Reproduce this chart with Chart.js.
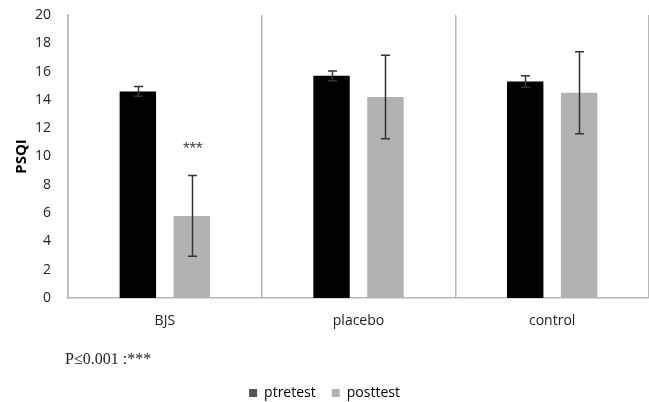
<!DOCTYPE html>
<html>
<head>
<meta charset="utf-8">
<script src="https://cdn.jsdelivr.net/npm/chart.js@4/dist/chart.umd.min.js"></script>
<style>
  html, body { margin: 0; padding: 0; background: #fff; }
  #wrap { width: 649px; height: 402px; position: relative; }
</style>
</head>
<body>
<div id="wrap"><canvas id="c" width="649" height="402"></canvas></div>
<script>
const categories = ['BJS', 'placebo', 'control'];
const seriesNames = ['ptretest', 'posttest'];
const pretest = [14.6, 15.7, 15.3];
const pretestErr = [0.35, 0.35, 0.4];
const posttest = [5.8, 14.2, 14.5];
const posttestErr = [2.85, 2.95, 2.9];
const yMin = 0, yMax = 20, yStep = 2;
const significance = ['***', '', ''];
const noteText = 'P\u22640.001 :***';
const yTitle = 'PSQI';

const errs = [pretestErr, posttestErr];

const legendFitPlugin = {
  id: 'legendFit',
  afterInit(chart) {
    const L = chart.legend;
    if (!L) return;
    const f = L.fit;
    L.fit = function () { f.call(this); this.height = 32; };
  }
};

const errorBarPlugin = {
  id: 'errorBars',
  afterDatasetsDraw(chart) {
    const ctx = chart.ctx;
    const y = chart.scales.y;
    ctx.save();
    ctx.strokeStyle = '#333333';
    ctx.lineWidth = 1.5;
    chart.data.datasets.forEach((ds, di) => {
      const meta = chart.getDatasetMeta(di);
      meta.data.forEach((bar, i) => {
        const v = ds.data[i];
        const e = errs[di][i];
        const x = Math.round(bar.x) + 0.5;
        const yt = y.getPixelForValue(v + e);
        const yb = y.getPixelForValue(v - e);
        ctx.beginPath();
        ctx.moveTo(x, yt); ctx.lineTo(x, yb);
        ctx.moveTo(x - 4.5, yt); ctx.lineTo(x + 4.5, yt);
        ctx.moveTo(x - 4.5, yb); ctx.lineTo(x + 4.5, yb);
        ctx.stroke();
      });
    });
    const meta1 = chart.getDatasetMeta(1);
    ctx.fillStyle = '#444';
    ctx.font = '17px "Liberation Sans", Arial, sans-serif';
    ctx.textAlign = 'center';
    ctx.textBaseline = 'middle';
    significance.forEach((s, i) => {
      if (!s) return;
      const bar = meta1.data[i];
      const yy = y.getPixelForValue(posttest[i] + posttestErr[i]) - 26;
      ctx.fillText(s, bar.x + 1, yy);
    });
    ctx.fillStyle = '#222';
    ctx.font = '16px "Liberation Serif", "Times New Roman", serif';
    ctx.textAlign = 'left';
    ctx.fillText(noteText, 65, chart.chartArea.bottom + 62);
    ctx.restore();
  }
};

new Chart(document.getElementById('c'), {
  type: 'bar',
  data: {
    labels: categories,
    datasets: [
      { label: seriesNames[0], data: pretest, backgroundColor: '#000000',
        categoryPercentage: 0.557, barPercentage: 0.675 },
      { label: seriesNames[1], data: posttest, backgroundColor: '#b2b2b2',
        categoryPercentage: 0.557, barPercentage: 0.675 }
    ]
  },
  options: {
    responsive: false,
    animation: false,
    devicePixelRatio: 1,
    layout: { padding: { top: 15, left: 0, right: 0, bottom: 0 } },
    plugins: {
      tooltip: { enabled: false },
      legend: {
        position: 'bottom',
        labels: {
          boxWidth: 8, boxHeight: 8, padding: 16,
          color: '#222',
          font: { family: '"Open Sans", sans-serif', size: 14 },
          generateLabels(chart) {
            const cols = ['#555555', '#b2b2b2'];
            return chart.data.datasets.map((ds, i) => ({
              text: ds.label, fillStyle: cols[i], strokeStyle: cols[i],
              lineWidth: 0, datasetIndex: i, hidden: false
            }));
          }
        }
      }
    },
    scales: {
      x: {
        grid: { display: true, offset: true, color: '#b8b8b8', lineWidth: 1.5, drawTicks: false },
        border: { display: true, color: '#b8b8b8', width: 1.5 },
        ticks: { color: '#222', padding: 15, font: { family: '"Open Sans", sans-serif', size: 14 } },
        afterFit(axis) { axis.height = 72; axis.paddingLeft = 0; axis.paddingRight = 0; }
      },
      y: {
        min: yMin, max: yMax,
        grid: { display: false, drawTicks: false },
        border: { display: true, color: '#b8b8b8', width: 1.5 },
        ticks: { stepSize: yStep, color: '#222', padding: 17, font: { family: '"Open Sans", sans-serif', size: 14 } },
        title: { display: true, text: yTitle, color: '#000', padding: { top: 13, bottom: 0 },
                 font: { family: '"Open Sans", sans-serif', size: 15, weight: 'bold' } },
        afterFit(axis) { axis.width = 68; axis.paddingTop = 0; axis.paddingBottom = 0; }
      }
    }
  },
  plugins: [legendFitPlugin, errorBarPlugin]
});
</script>
</body>
</html>
